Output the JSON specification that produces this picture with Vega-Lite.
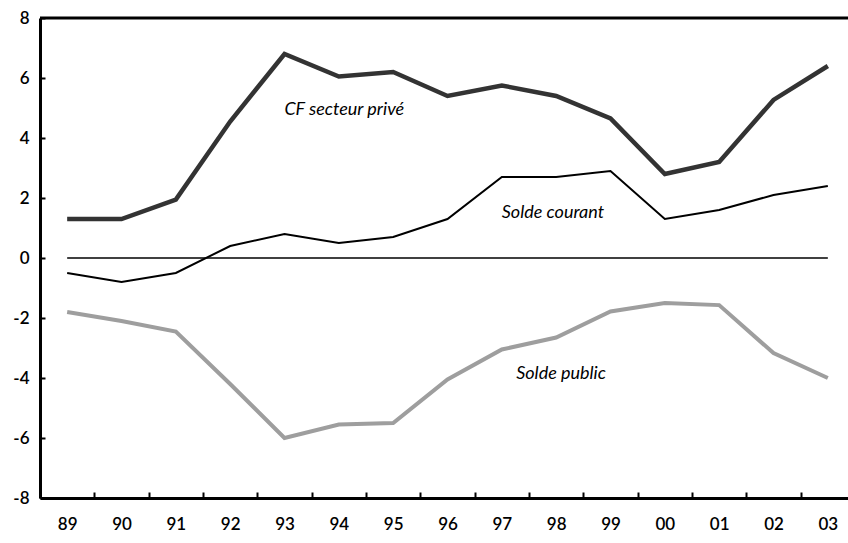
{
  "$schema": "https://vega.github.io/schema/vega-lite/v6.json",
  "width": 815,
  "height": 480,
  "autosize": {"type": "none"},
  "padding": {"left": 40, "top": 18, "right": 0, "bottom": 45},
  "background": "white",
  "config": {
    "view": {"stroke": null},
    "font": "Lato",
    "axisX": {
      "domainColor": "black", "domainWidth": 3, "tickColor": "black", "tickWidth": 2,
      "tickSize": -6, "tickBand": "extent", "labelAngle": 0, "labelPadding": 24,
      "labelFontSize": 17, "labelColor": "black", "labelFont": "Lato", "labelFontWeight": 600, "grid": false
    },
    "axisY": {
      "domainColor": "black", "domainWidth": 3, "tickColor": "black", "tickWidth": 2,
      "tickSize": -5, "labelPadding": 16, "labelFontSize": 17, "labelColor": "black",
      "labelFont": "Lato", "labelFontWeight": 600, "grid": false
    }
  },
  "datasets": {
    "series": [
      {"yr": "89", "series": "CF", "v": 1.3},
      {"yr": "90", "series": "CF", "v": 1.3},
      {"yr": "91", "series": "CF", "v": 1.95},
      {"yr": "92", "series": "CF", "v": 4.55},
      {"yr": "93", "series": "CF", "v": 6.8},
      {"yr": "94", "series": "CF", "v": 6.05},
      {"yr": "95", "series": "CF", "v": 6.2},
      {"yr": "96", "series": "CF", "v": 5.4},
      {"yr": "97", "series": "CF", "v": 5.75},
      {"yr": "98", "series": "CF", "v": 5.4},
      {"yr": "99", "series": "CF", "v": 4.65},
      {"yr": "00", "series": "CF", "v": 2.8},
      {"yr": "01", "series": "CF", "v": 3.2},
      {"yr": "02", "series": "CF", "v": 5.27},
      {"yr": "03", "series": "CF", "v": 6.4},
      {"yr": "89", "series": "Courant", "v": -0.5},
      {"yr": "90", "series": "Courant", "v": -0.8},
      {"yr": "91", "series": "Courant", "v": -0.5},
      {"yr": "92", "series": "Courant", "v": 0.4},
      {"yr": "93", "series": "Courant", "v": 0.8},
      {"yr": "94", "series": "Courant", "v": 0.5},
      {"yr": "95", "series": "Courant", "v": 0.7},
      {"yr": "96", "series": "Courant", "v": 1.3},
      {"yr": "97", "series": "Courant", "v": 2.7},
      {"yr": "98", "series": "Courant", "v": 2.7},
      {"yr": "99", "series": "Courant", "v": 2.9},
      {"yr": "00", "series": "Courant", "v": 1.3},
      {"yr": "01", "series": "Courant", "v": 1.6},
      {"yr": "02", "series": "Courant", "v": 2.1},
      {"yr": "03", "series": "Courant", "v": 2.4},
      {"yr": "89", "series": "Public", "v": -1.8},
      {"yr": "90", "series": "Public", "v": -2.1},
      {"yr": "91", "series": "Public", "v": -2.45},
      {"yr": "92", "series": "Public", "v": -4.2},
      {"yr": "93", "series": "Public", "v": -6.0},
      {"yr": "94", "series": "Public", "v": -5.55},
      {"yr": "95", "series": "Public", "v": -5.5},
      {"yr": "96", "series": "Public", "v": -4.05},
      {"yr": "97", "series": "Public", "v": -3.05},
      {"yr": "98", "series": "Public", "v": -2.65},
      {"yr": "99", "series": "Public", "v": -1.78},
      {"yr": "00", "series": "Public", "v": -1.5},
      {"yr": "01", "series": "Public", "v": -1.57},
      {"yr": "02", "series": "Public", "v": -3.17},
      {"yr": "03", "series": "Public", "v": -4.0},
      {"yr": "89", "series": "Zero", "v": 0},
      {"yr": "03", "series": "Zero", "v": 0}
    ]
  },
  "encoding": {
    "x": {
      "field": "yr", "type": "ordinal", "title": null,
      "sort": ["89","90","91","92","93","94","95","96","97","98","99","00","01","02","03"],
      "scale": {"type": "band", "paddingInner": 0, "paddingOuter": 0,
                "domain": ["89","90","91","92","93","94","95","96","97","98","99","00","01","02","03"]}
    },
    "y": {
      "field": "v", "type": "quantitative", "title": null,
      "scale": {"domain": [-8, 8], "nice": false, "zero": false},
      "axis": {"values": [-8,-6,-4,-2,0,2,4,6,8], "labelExpr": "'' + datum.value"}
    }
  },
  "layer": [
    {
      "data": {"name": "series"},
      "transform": [{"filter": "datum.series === 'Zero'"}],
      "mark": {"type": "line", "color": "black", "strokeWidth": 1.6}
    },
    {
      "data": {"name": "series"},
      "transform": [{"filter": "datum.series === 'Public'"}],
      "mark": {"type": "line", "color": "#9e9e9e", "strokeWidth": 4, "strokeJoin": "miter"}
    },
    {
      "data": {"name": "series"},
      "transform": [{"filter": "datum.series === 'Courant'"}],
      "mark": {"type": "line", "color": "black", "strokeWidth": 2, "strokeJoin": "miter"}
    },
    {
      "data": {"name": "series"},
      "transform": [{"filter": "datum.series === 'CF'"}],
      "mark": {"type": "line", "color": "#333333", "strokeWidth": 4.5, "strokeJoin": "miter"}
    },
    {
      "data": {"values": [{"yr": "94", "v": 4.93, "label": "CF secteur privé"}]},
      "mark": {"type": "text", "font": "Lato", "fontStyle": "italic", "fontWeight": "normal", "fontSize": 18, "align": "center", "baseline": "middle", "color": "black"},
      "encoding": {
        "x": {"field": "yr", "type": "ordinal", "bandPosition": 0.6},
        "text": {"field": "label"}
      }
    },
    {
      "data": {"values": [{"yr": "98", "v": 1.5, "label": "Solde courant"}]},
      "mark": {"type": "text", "font": "Lato", "fontStyle": "italic", "fontWeight": "normal", "fontSize": 18, "align": "center", "baseline": "middle", "color": "black"},
      "encoding": {
        "x": {"field": "yr", "type": "ordinal", "bandPosition": 0.44},
        "text": {"field": "label"}
      }
    },
    {
      "data": {"values": [{"yr": "98", "v": -3.87, "label": "Solde public"}]},
      "mark": {"type": "text", "font": "Lato", "fontStyle": "italic", "fontWeight": "normal", "fontSize": 18, "align": "center", "baseline": "middle", "color": "black"},
      "encoding": {
        "x": {"field": "yr", "type": "ordinal", "bandPosition": 0.59},
        "text": {"field": "label"}
      }
    },
    {
      "data": {"values": [{"v": 8}]},
      "mark": {"type": "rule", "color": "black", "strokeWidth": 3},
      "encoding": {
        "x": null
      }
    }
  ]
}
